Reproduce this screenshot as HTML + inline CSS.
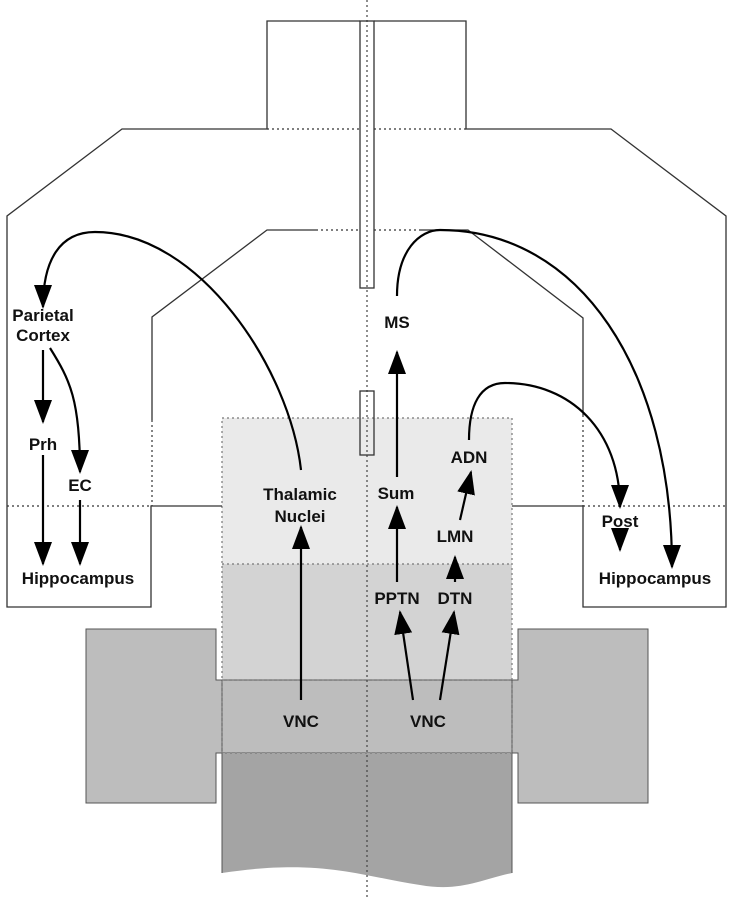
<!DOCTYPE html>
<html><head><style>
html,body{margin:0;padding:0;background:#fff;}
svg text{font-family:"Liberation Sans",Arial,sans-serif;font-size:17px;font-weight:bold;fill:#111;text-anchor:middle;}
</style></head><body>
<svg width="733" height="899" viewBox="0 0 733 899" xmlns="http://www.w3.org/2000/svg">
<defs>
<marker id="ah" markerWidth="24" markerHeight="18" refX="22" refY="9" orient="auto" markerUnits="userSpaceOnUse" viewBox="0 0 24 18">
<path d="M0,0 L24,9 L0,18 Z" fill="#000"/>
</marker>
</defs>
<rect x="222" y="418" width="290" height="146" fill="#eaeaea"/>
<rect x="222" y="564" width="290" height="116" fill="#d3d3d3"/>
<path d="M86,629 H216 V680 H518 V629 H648 V803 H518 V753 H216 V803 H86 Z" fill="#bdbdbd" stroke="#555" stroke-width="1"/>
<path d="M222,753 H512 V873 C480,880 460,892 420,885 C360,876 320,858 222,873 Z" fill="#a4a4a4"/>
<line x1="222" y1="680" x2="222" y2="873" stroke="#555" stroke-width="1"/>
<line x1="512" y1="680" x2="512" y2="873" stroke="#555" stroke-width="1"/>
<g stroke="#777" stroke-width="1.2" stroke-dasharray="2,3" fill="none">
<rect x="222" y="418" width="290" height="335"/>
<line x1="222" y1="564" x2="512" y2="564"/>
<line x1="222" y1="680" x2="512" y2="680"/>
<line x1="367" y1="0" x2="367" y2="899" stroke="#444"/>
<line x1="7" y1="506" x2="151" y2="506" stroke="#333"/>
<line x1="583" y1="506" x2="726" y2="506" stroke="#333"/>
<line x1="267" y1="129" x2="360" y2="129" stroke="#333"/>
<line x1="374" y1="129" x2="466" y2="129" stroke="#333"/>
<line x1="316" y1="230" x2="360" y2="230" stroke="#333"/>
<line x1="374" y1="230" x2="420" y2="230" stroke="#333"/>
<line x1="152" y1="420" x2="152" y2="506" stroke="#333"/>
<line x1="583" y1="415" x2="583" y2="506" stroke="#333"/>
</g>
<g stroke="#333" stroke-width="1.3" fill="none">
<path d="M360,21 H267 V129 H122 L7,216 V607 H151 V506 H222"/>
<path d="M374,21 H466 V129 H611 L726,216 V607 H583 V506 H512"/>
<path d="M316,230 H267 L152,317 V420"/>
<path d="M420,230 H468 L583,318 V415"/>
<rect x="360" y="21" width="14" height="267"/>
<rect x="360" y="391" width="14" height="64"/>
</g>
<g stroke="#000" stroke-width="2.2" fill="none" marker-end="url(#ah)">
<path d="M301,470 C290,370 200,232 95,232 C60,232 43,260 43,307"/>
<path d="M43,350 V422"/>
<path d="M50,348 C70,380 80,400 80,472"/>
<path d="M43,455 V564"/>
<path d="M80,500 V564"/>
<path d="M301,700 V527"/>
<path d="M397,477 V352"/>
<path d="M397,582 V507"/>
<path d="M455,582 V557"/>
<path d="M460,520 L471,472"/>
<path d="M413,700 L400,612" />
<path d="M440,700 L454,612" />
<path d="M397,296 C397,250 420,230 440,230 C580,230 672,370 672,567"/>
<path d="M469,440 C469,405 480,383 505,383 C570,383 620,430 620,507"/>
<path d="M620,535 V550"/>
</g>
<text x="43" y="321">Parietal</text>
<text x="43" y="341">Cortex</text>
<text x="43" y="450">Prh</text>
<text x="80" y="491">EC</text>
<text x="78" y="584">Hippocampus</text>
<text x="300" y="500">Thalamic</text>
<text x="300" y="522">Nuclei</text>
<text x="397" y="328">MS</text>
<text x="396" y="499">Sum</text>
<text x="469" y="463">ADN</text>
<text x="455" y="542">LMN</text>
<text x="397" y="604">PPTN</text>
<text x="455" y="604">DTN</text>
<text x="301" y="727">VNC</text>
<text x="428" y="727">VNC</text>
<text x="620" y="527">Post</text>
<text x="655" y="584">Hippocampus</text>
</svg>
</body></html>
